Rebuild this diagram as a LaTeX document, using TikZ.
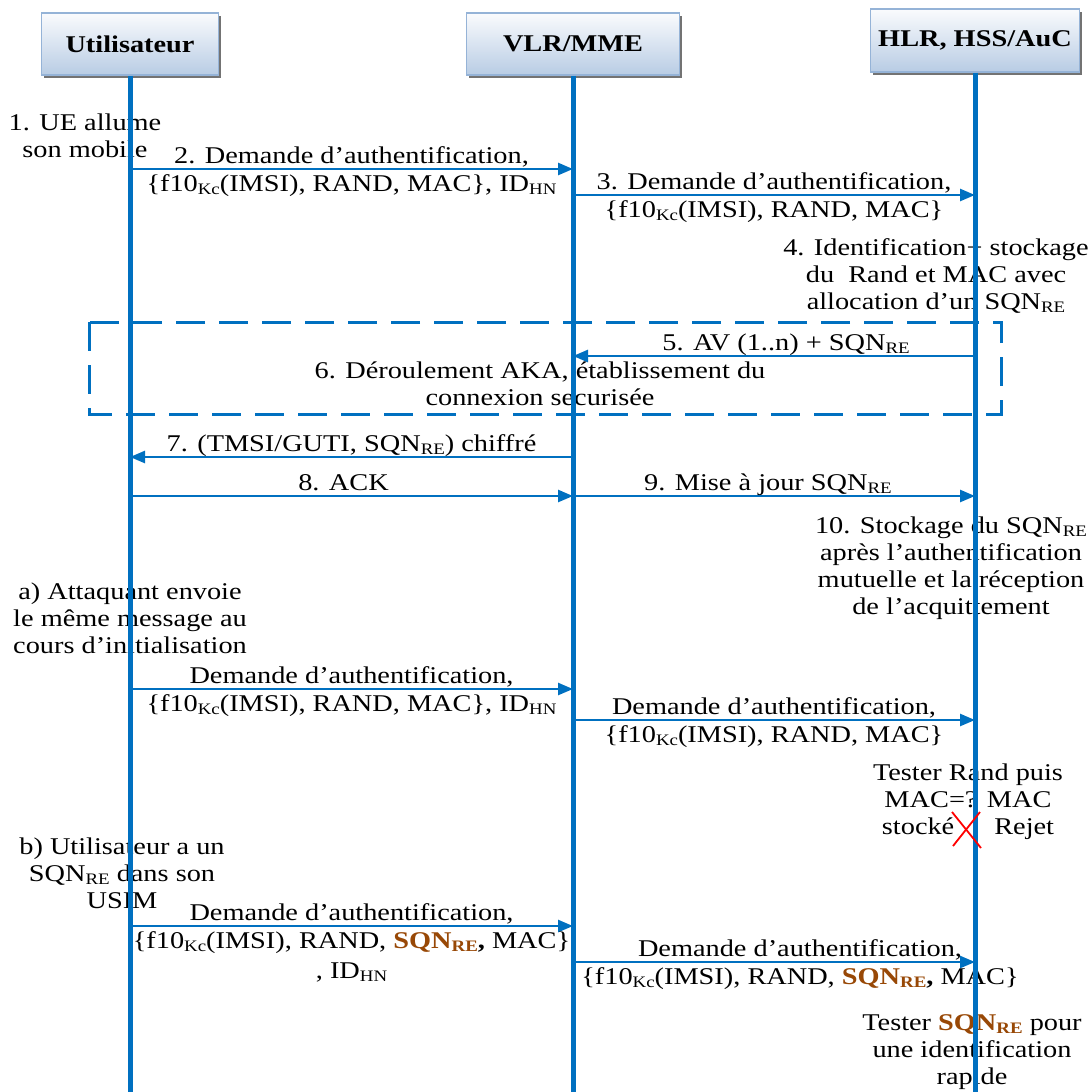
\documentclass[tikz,border=0pt]{standalone}
\usepackage{fontspec}
\setmainfont{Liberation Serif}[FakeStretch=1.18]
\usetikzlibrary{arrows.meta,shadows}

\definecolor{lifeblue}{RGB}{0,112,192}
\definecolor{sqnbrown}{RGB}{152,72,6}
\definecolor{headline}{RGB}{149,179,215}
\definecolor{headtop}{RGB}{250,251,253}
\definecolor{headbot}{RGB}{184,204,228}

\newcommand{\lowtxt}[1]{\raisebox{-3pt}{\fontsize{16}{16}\selectfont #1}}
\newcommand{\sqnre}{\textcolor{sqnbrown}{\textbf{SQN\lowtxt{RE}}}}
\newcommand{\notelines}[1]{\begin{tabular}[t]{@{}c@{}}#1\end{tabular}}

\tikzset{
  every node/.style={inner sep=0pt, font=\fontsize{24}{27}\selectfont},
  head/.style={draw=headline, line width=1.5pt, top color=headtop, bottom color=headbot,
    font=\fontsize{24}{27}\selectfont\bfseries, minimum height=62pt,
    drop shadow={shadow xshift=2.5pt, shadow yshift=-3pt, fill=black!55, opacity=1}},
  life/.style={draw=lifeblue, line width=5pt},
  msg/.style={draw=lifeblue, line width=2.5pt, -{Triangle[length=15pt,width=12pt]}},
  lbltop/.style={midway, anchor=base, yshift=6pt},
  lblbot/.style={midway, anchor=base, yshift=-22pt},
  note/.style={anchor=base},
  dashbox/.style={draw=lifeblue, line width=3pt, dash pattern=on 29pt off 14pt},
  cross/.style={draw=red, line width=1.8pt}
}

\begin{document}
\begin{tikzpicture}[x=1pt, y=-1pt]
  \useasboundingbox (0,0) rectangle (1091,1092);
  % entity boxes
  \node[head, minimum width=177pt] (user) at (130,44) {Utilisateur};
  \node[head, minimum width=213pt] (vlr) at (573,44) {VLR/MME};
  \node[head, minimum width=209pt, minimum height=63pt] (hlr) at (975,40.5) {HLR, HSS/AuC};
  \coordinate (bottom) at (0,1092);
  % message rows on the lifelines
  \foreach \m/\y in {m2/169,m3/195,m5/356,m7/457,m8/496,a1/689,a2/720,b1/926,b2/962}{
    \coordinate (\m-u) at (user.south |- 0,\y);
    \coordinate (\m-v) at (vlr.south |- 0,\y);
    \coordinate (\m-h) at (hlr.south |- 0,\y);
  }
  % side notes
  \node[note] (ueon) at (85,130) {\notelines{1. UE allume\\son mobile}};
  \node[note] (ident) at (936,255) {\notelines{4. Identification+ stockage\\du~ Rand et MAC avec\\allocation d’un SQN\lowtxt{RE}}};
  \node[note] (aka) at (540,378) {\notelines{6. Déroulement AKA, établissement du\\connexion securisée}};
  \node[note] (store) at (951,533) {\notelines{10. Stockage du SQN\lowtxt{RE}\\après l’authentification\\mutuelle et la réception\\de l’acquittement}};
  \node[note] (attack) at (130,599) {\notelines{a) Attaquant envoie\\le même message au\\cours d’initialisation}};
  \node[note] (reject) at (968,780) {\notelines{Tester Rand puis\\MAC=? MAC\\stocké\hspace{40pt}Rejet}};
  \node[note] (usim) at (122,854) {\notelines{b) Utilisateur a un\\SQN\lowtxt{RE} dans son\\USIM}};
  \node[note] (fast) at (972,1030) {\notelines{Tester \sqnre{} pour\\une identification\\rapide}};
  % messages
  \draw[msg] (m2-u) -- (m2-v) node[lbltop] (m2-t) {2. Demande d’authentification,}
    node[lblbot] (m2-b) {\{f10\lowtxt{Kc}(IMSI), RAND, MAC\}, ID\lowtxt{HN}};
  \draw[msg] (m3-v) -- (m3-h) node[lbltop] (m3-t) {3. Demande d’authentification,}
    node[lblbot] (m3-b) {\{f10\lowtxt{Kc}(IMSI), RAND, MAC\}};
  \draw[msg] (m5-h) -- (m5-v) node[lbltop, xshift=12pt] (m5-t) {5. AV (1..n) + SQN\lowtxt{RE}};
  \draw[msg] (m7-v) -- (m7-u) node[lbltop] (m7-t) {7. (TMSI/GUTI, SQN\lowtxt{RE}) chiffré};
  \draw[msg] (m8-u) -- (m8-v) node[lbltop, xshift=-8pt] (m8-t) {8. ACK};
  \draw[msg] (m8-v) -- (m8-h) node[lbltop, xshift=-6pt] (m9-t) {9. Mise à jour SQN\lowtxt{RE}};
  \draw[msg] (a1-u) -- (a1-v) node[lbltop] (a1-t) {Demande d’authentification,}
    node[lblbot] (a1-b) {\{f10\lowtxt{Kc}(IMSI), RAND, MAC\}, ID\lowtxt{HN}};
  \draw[msg] (a2-v) -- (a2-h) node[lbltop] (a2-t) {Demande d’authentification,}
    node[lblbot] (a2-b) {\{f10\lowtxt{Kc}(IMSI), RAND, MAC\}};
  \draw[msg] (b1-u) -- (b1-v) node[lbltop] (b1-t) {Demande d’authentification,}
    node[lblbot] (b1-b) {\{f10\lowtxt{Kc}(IMSI), RAND, \sqnre\textbf{,} MAC\}}
    node[lblbot, yshift=-30pt] (b1-c) {, ID\lowtxt{HN}};
  \draw[msg] (b2-v) -- (b2-h) node[lbltop, xshift=26pt] (b2-t) {Demande d’authentification,}
    node[lblbot, xshift=26pt] (b2-b) {\{f10\lowtxt{Kc}(IMSI), RAND, \sqnre\textbf{,} MAC\}};
  % lifelines
  \draw[life] (user.south) -- (user.south |- bottom);
  \draw[life] (vlr.south) -- (vlr.south |- bottom);
  \draw[life] (hlr.south) -- (hlr.south |- bottom);
  % AKA frame and reject mark
  \draw[dashbox] (89,322) rectangle (1001,414);
  \draw[cross] (952,812) -- (981,848) (980,812) -- (953,846);
\end{tikzpicture}
\end{document}
